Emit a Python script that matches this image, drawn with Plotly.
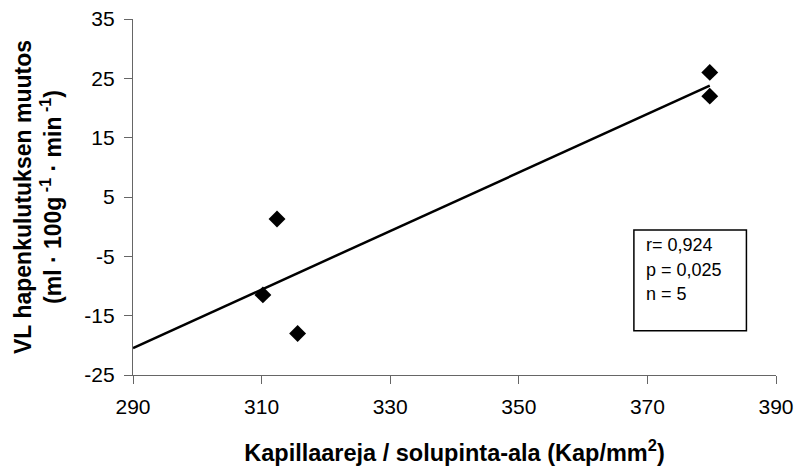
import numpy as np
import plotly.graph_objects as go

# Capillaries per cell area vs. change in leg oxygen consumption
kapillaarit = [312.4, 310.2, 315.6, 379.7, 379.7]
hapenkulutus_muutos = [1.3, -11.5, -18.0, 26.0, 22.0]

x_ticks = [290, 310, 330, 350, 370, 390]
y_ticks = [-25, -15, -5, 5, 15, 25, 35]

stats_lines = ["r= 0,924", "p = 0,025", "n = 5"]

# Least-squares trend line
slope, intercept = np.polyfit(kapillaarit, hapenkulutus_muutos, 1)
trend_x = [290, max(kapillaarit)]
trend_y = [slope * v + intercept for v in trend_x]

FONT = "Liberation Sans, Arial, sans-serif"

fig = go.Figure()
fig.add_trace(go.Scatter(
    x=trend_x, y=trend_y, mode="lines",
    line=dict(color="black", width=2.5),
    hoverinfo="skip", showlegend=False,
))
fig.add_trace(go.Scatter(
    x=kapillaarit, y=hapenkulutus_muutos, mode="markers",
    marker=dict(symbol="diamond", size=13, color="black"),
    showlegend=False,
))

axis_common = dict(
    showgrid=False, zeroline=False, showline=True, automargin=False,
    linecolor="#666666", linewidth=1.2,
    ticks="outside", ticklen=8, tickcolor="#666666", tickwidth=1.2,
    ticklabelstandoff=5,
    tickfont=dict(family=FONT, size=21, color="black"),
)

fig.update_xaxes(
    range=[290, 390], tickvals=x_ticks, ticktext=[str(v) for v in x_ticks],
    title=dict(text="<b>Kapillaareja / solupinta-ala (Kap/mm<sup>2</sup>)</b>",
               font=dict(family=FONT, size=23.5, color="black"), standoff=27),
    **axis_common,
)
fig.update_yaxes(
    range=[-25, 35], tickvals=y_ticks, ticktext=[str(v) for v in y_ticks],
    title=dict(text="<b>VL hapenkulutuksen muutos<br>(ml · 100g<sup> -1</sup> · min<sup> -1</sup>)</b>",
               font=dict(family=FONT, size=23, color="black"), standoff=16),
    **axis_common,
)

# Statistics box
fig.add_shape(type="rect", xref="paper", yref="paper",
              x0=0.779, x1=0.954, y0=0.124, y1=0.407,
              line=dict(color="black", width=1.5), fillcolor="white", layer="below")
for i, txt in enumerate(stats_lines):
    fig.add_annotation(
        xref="paper", yref="paper", x=0.794, y=(375 - (245 + 24.5 * i)) / 356,
        xanchor="left", yanchor="middle", text=txt, showarrow=False,
        font=dict(family=FONT, size=18, color="black"),
    )

fig.update_layout(
    width=800, height=467,
    margin=dict(l=133, r=24, t=19, b=92),
    paper_bgcolor="white", plot_bgcolor="white",
)

fig.write_html("out.html")
